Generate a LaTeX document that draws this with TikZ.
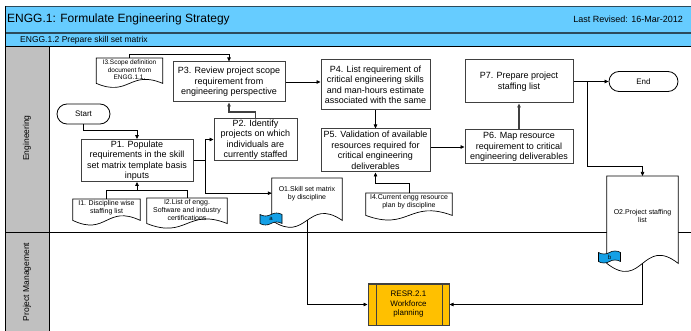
\documentclass[tikz,border=0pt]{standalone}
\usepackage{fontspec}
\setmainfont{Liberation Sans}
\usetikzlibrary{arrows.meta,shapes.symbols,calc}
\definecolor{hdrblue}{HTML}{66CCFF}
\definecolor{hdrline}{HTML}{2B4B5C}
\definecolor{flagblue}{HTML}{14A0E6}
\definecolor{lanegray}{HTML}{C0C0C0}
\definecolor{resyellow}{HTML}{FFC000}
\definecolor{edge}{HTML}{404040}
\pgfdeclarelayer{bg}
\pgfdeclarelayer{shapes}
\pgfsetlayers{bg,shapes,main}

\tikzset{
  proc/.style={draw=edge, line width=1pt, fill=white, align=center,
    font=\fontsize{9}{10.5}\selectfont, inner sep=1pt},
  term/.style={draw=black, line width=0.8pt, rounded corners=10pt, fill=white,
    align=center, font=\fontsize{8}{9}\selectfont, inner sep=1pt},
  docnode/.style={align=center, anchor=north, font=\fontsize{7}{8}\selectfont, inner sep=1pt},
  docline/.style={draw=black, line width=0.7pt, fill=white},
  flow/.style={draw=black, line width=0.7pt, -{Triangle[length=4pt,width=3.5pt]}},
  heavyflow/.style={flow, draw=edge, line width=1.3pt},
  link/.style={draw=black, line width=0.7pt},
  flagtag/.style={tape, draw=black, line width=0.6pt, fill=flagblue,
    minimum width=22pt, minimum height=12pt, inner sep=0pt,
    font=\fontsize{6}{6}\selectfont, tape bend height=3pt},
}

% document outline under the node text: #1 node, #2 extra depth below the
% text, #3 bend of the wavy lower edge; (#1-bottom) marks the middle of that edge
\newcommand\docoutline[3]{%
  \coordinate (#1-bottom) at ($(#1.south)+(0,#2)$);
  \begin{pgfonlayer}{shapes}
    \path[docline] (#1.north west) -- (#1.north east) -- ($(#1.south east)+(0,#2)$)
      .. controls ($(#1-bottom)+(0,-#3)$) and ($(#1-bottom)+(0,#3)$) ..
      ($(#1.south west)+(0,#2)$) -- cycle;
  \end{pgfonlayer}}

\begin{document}
\begin{tikzpicture}[x=1pt, y=-1pt]
\useasboundingbox (0,0) rectangle (691,331);

% header bands, lane column and lane borders
\begin{pgfonlayer}{bg}
  \fill[white] (0,0) rectangle (691,331);
  \fill[hdrblue] (5,6) rectangle (691,47);
  \fill[lanegray] (5,47) rectangle (49,331);
  \draw[hdrline, line width=0.8pt] (5,6) -- (691,6);
  \draw[hdrline, line width=1.6pt] (5,33) -- (691,33);
  \draw[black, line width=1pt] (5,47) -- (691,47);
  \draw[black, line width=1pt] (5,6) -- (5,331);
  \draw[black, line width=0.8pt] (49,47) -- (49,331);
  \draw[black, line width=1pt] (5,233) -- (691,233);
\end{pgfonlayer}

\node[anchor=west, font=\fontsize{12}{14}\selectfont, inner sep=0pt] (title) at (7,19.5)
  {ENGG.1: Formulate Engineering Strategy};
\node[anchor=east, font=\fontsize{9}{10}\selectfont, inner sep=0pt] (revised) at (683,19.5)
  {Last Revised: 16-Mar-2012};
\node[anchor=west, font=\fontsize{8.5}{10}\selectfont, inner sep=0pt] (subtitle) at (20,40)
  {ENGG.1.2 Prepare skill set matrix};

\node[rotate=90, font=\fontsize{8.5}{10}\selectfont] (laneEng) at (27,138) {Engineering};
\node[rotate=90, font=\fontsize{8.5}{10}\selectfont] (lanePM) at (27,282) {Project Management};

% process steps
\node[proc, minimum width=112pt, minimum height=40pt] (P3) at (229,82)
  {P3. Review project scope\\requirement from\\engineering perspective};
\node[proc, minimum width=109pt, minimum height=50pt] (P4) at (375.5,85)
  {P4. List requirement of\\critical engineering skills\\and man-hours estimate\\associated with the same};
\node[proc, minimum width=108pt, minimum height=43pt] (P7) at (519,81.5)
  {P7. Prepare project\\staffing list};
\node[proc, minimum width=83pt, minimum height=41pt] (P2) at (255.5,139.5)
  {P2. Identify\\projects on which\\individuals are\\currently staffed};
\node[proc, minimum width=112pt, minimum height=41pt] (P1) at (137,160.5)
  {P1. Populate\\requirements in the skill\\set matrix template basis\\inputs};
\node[proc, minimum width=109pt, minimum height=43pt] (P5) at (375.5,150.5)
  {P5. Validation of available\\resources required for\\critical engineering\\deliverables};
\node[proc, minimum width=108pt, minimum height=34pt] (P6) at (519,147)
  {P6. Map resource\\requirement to critical\\engineering deliverables};

% terminators
\node[term, minimum width=53pt, minimum height=20pt] (Start) at (83.5,114) {Start};
\node[term, minimum width=69pt, minimum height=20pt] (End) at (643.5,81.5) {End};

% input and output documents
\node[docnode, minimum width=66pt, minimum height=23pt, font=\fontsize{6.5}{7.5}\selectfont] (I3) at (129.5,58)
  {I3.Scope definition\\document from\\ENGG.1.1.};
\docoutline{I3}{2}{14}
\node[docnode, minimum width=67pt, minimum height=17pt] (I1) at (106.5,199)
  {I1. Discipline wise\\staffing list};
\docoutline{I1}{4}{16}
\node[docnode, minimum width=80pt, minimum height=23pt] (I2) at (187,198)
  {I2.List of engg.\\Software and industry\\certifications};
\docoutline{I2}{2}{16}
\node[docnode, minimum width=86pt, minimum height=18pt] (I4) at (409,193)
  {I4.Current engg resource\\plan by discipline};
\docoutline{I4}{4}{16}
\node[docnode, minimum width=70pt, minimum height=30pt] (O1) at (307,178)
  {O1.Skill set matrix\\by discipline};
\docoutline{O1}{12}{24}
\node[docnode, minimum width=71pt, minimum height=80pt] (O2) at (642.5,176)
  {O2.Project staffing\\list};
\docoutline{O2}{7}{28}

% off-page link flags
\node[flagtag] (flagA) at (271,219) {a};
\node[flagtag] (flagB) at (609.5,257) {b};

% linked process in project management
\node[draw=edge, line width=1pt, fill=resyellow, minimum width=81pt, minimum height=41pt,
  align=center, font=\fontsize{8}{9.5}\selectfont] (RESR) at (408.5,304.5)
  {RESR.2.1\\Workforce\\planning};
\draw[edge, line width=0.8pt] ($(RESR.north west)+(9,0)$) -- ($(RESR.south west)+(9,0)$);
\draw[edge, line width=0.8pt] ($(RESR.north east)+(-7,0)$) -- ($(RESR.south east)+(-7,0)$);

% junction points
\coordinate (J1) at (205,160.5);
\coordinate (J2) at (587,81.5);
\coordinate (J3) at (587,166);
\coordinate (J4) at (137,190);

% connectors
\draw[flow] (I3.north) -- ++(0,-4) -| (P3.north);
\draw[flow] (Start.south) -- ++(0,6) -| (P1.north);
\draw[black, line width=1.8pt] (P1.east) -- (J1);
\draw[flow] (J1) |- (P2.west);
\draw[flow] (J1) |- (O1.west);
\draw[heavyflow] (P2.north) -- ++(0,-6) -| (P3.south);
\draw[flow] (P3.east) -- (P3.east -| P4.west);
\draw[flow] (P4.south) -- (P5.north);
\draw[flow] (P5.east |- P6.west) -- (P6.west);
\draw[heavyflow] (P6.north) -- (P7.south);
\draw[flow] (P7.east) -- (End.west);
\draw[flow] (J2) -- (J3) -| (O2.north);
\draw[link] (I1.north) |- (J4);
\draw[link] (I2.north) |- (J4);
\draw[flow] (J4) -- (P1.south);
\draw[flow] (I4.north) -- ++(0,-10) -| (P5.south);
\draw[flow] (O1-bottom) |- (RESR.west);
\draw[flow] (O2-bottom) |- (RESR.east);
\end{tikzpicture}
\end{document}
